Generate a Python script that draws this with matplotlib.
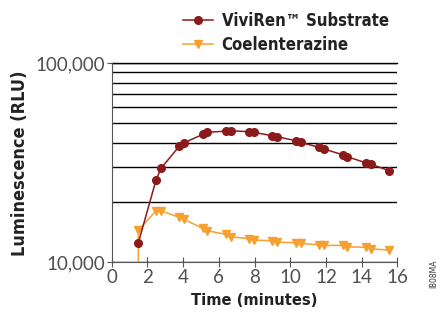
import matplotlib
matplotlib.use("Agg")
import matplotlib.pyplot as plt
from matplotlib.ticker import FixedLocator, FuncFormatter, NullFormatter

time_viviren = [1.49, 2.48, 2.76, 3.79, 4.05, 5.10, 5.36, 6.40, 6.68, 7.71, 7.97,
                9.00, 9.28, 10.33, 10.59, 11.61, 11.89, 12.94, 13.20, 14.23, 14.51, 15.55]
lum_viviren = [12540, 25920, 29680, 38400, 39900, 43960, 44990, 45680, 45840, 45320, 45000,
               43270, 42770, 40830, 40090, 37840, 37100, 34730, 33940, 31660, 31190, 28860]

time_coel = [1.47, 1.49, 2.48, 2.76, 3.79, 4.05, 5.10, 5.36, 6.40, 6.68, 7.71, 7.97,
             9.00, 9.28, 10.33, 10.59, 11.61, 11.89, 12.94, 13.20, 14.23, 14.51, 15.55]
lum_coel = [3000, 14530, 18160, 18160, 16830, 16450, 14820, 14420, 13830, 13450, 13140, 12940,
            12840, 12650, 12540, 12460, 12260, 12170, 12170, 11980, 11900, 11700, 11530]

x_ticks = [0, 2, 4, 6, 8, 10, 12, 14, 16]
y_ticks = [10000, 100000]

red = "#8b1a1a"
orange = "#f5a030"
bold_font = {"family": "DejaVu Sans", "stretch": "condensed", "weight": "bold"}

fig = plt.figure(figsize=(4.4, 3.15), dpi=100)
ax = fig.add_axes([0.254, 0.167, 0.649, 0.632])

ax.plot(time_coel, lum_coel, color=orange, marker="v", markersize=6, lw=1.1,
        label="Coelenterazine", zorder=2)
ax.plot(time_viviren, lum_viviren, color=red, marker="o", markersize=5.5, lw=1.1,
        label="ViviRen™ Substrate", zorder=3)

ax.set_yscale("log")
ax.set_ylim(10000, 100000)
ax.set_xlim(0, 16)

ax.yaxis.set_major_locator(FixedLocator(y_ticks))
ax.yaxis.set_major_formatter(FuncFormatter(lambda v, p: f"{int(v):,}"))
ax.yaxis.set_minor_locator(FixedLocator([k * 10000 for k in range(2, 10)]))
ax.yaxis.set_minor_formatter(NullFormatter())
ax.tick_params(axis="y", which="minor", length=0)
ax.grid(True, axis="y", which="both", color="black", lw=1.0)
ax.axhline(100000, color="black", lw=1.0, clip_on=False)
ax.set_axisbelow(True)

ax.set_xticks(x_ticks)
for s in ["top", "right"]:
    ax.spines[s].set_visible(False)
for s in ["left", "bottom"]:
    ax.spines[s].set_color("#555555")
ax.tick_params(axis="both", which="major", direction="inout", length=7, color="#555555",
               labelsize=13.5, labelcolor="#505050", pad=1)
for lab in ax.get_xticklabels() + ax.get_yticklabels():
    lab.set_fontfamily("Lato")

ax.set_xlabel("Time (minutes)", fontsize=11.8, color="#222222", labelpad=5, **bold_font)
ax.set_ylabel("Luminescence (RLU)", fontsize=13, color="#222222", labelpad=5, **bold_font)

h, l = ax.get_legend_handles_labels()
leg = fig.legend(h[::-1], l[::-1], loc="upper left", bbox_to_anchor=(0.39, 1.0),
                 frameon=False,
                 prop={"family": "DejaVu Sans", "stretch": "condensed", "weight": "bold", "size": 12},
                 handlelength=1.8, handletextpad=0.5, labelspacing=0.4, borderaxespad=0.3)
for t in leg.get_texts():
    t.set_color("#222222")

fig.text(0.985, 0.13, "I808MA", rotation=90, fontsize=5.5, ha="center", va="center",
         color="#333333")

fig.savefig("out.png", dpi=100)
